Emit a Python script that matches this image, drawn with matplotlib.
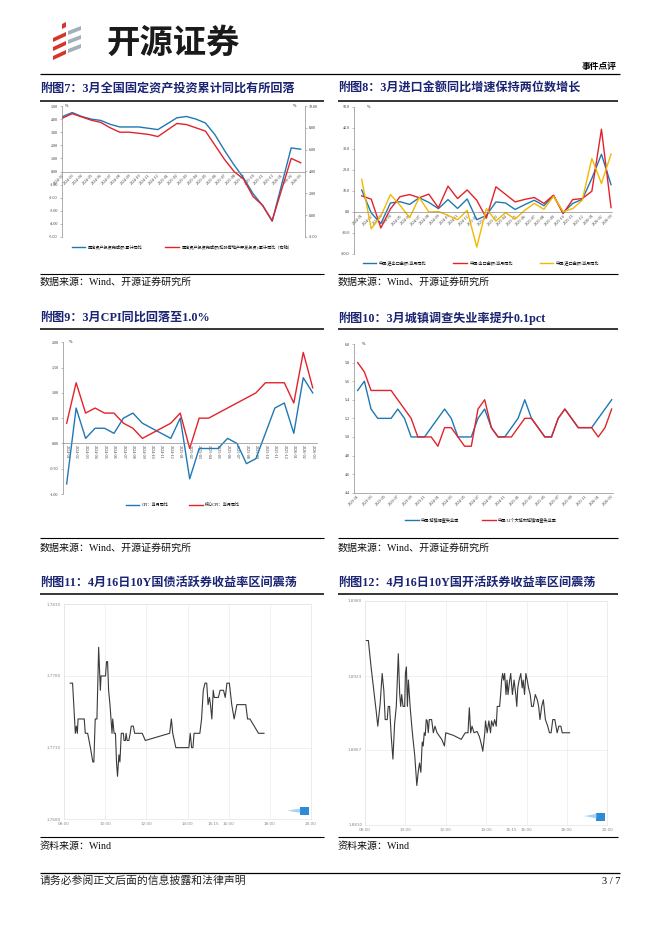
import matplotlib
matplotlib.use("Agg")
import matplotlib.pyplot as plt
import numpy as np
from matplotlib.patches import Polygon, Rectangle
from matplotlib.ticker import FormatStrFormatter

plt.rcParams['font.family'] = ['Liberation Serif', 'Noto Sans CJK SC', 'DejaVu Sans']
plt.rcParams['axes.unicode_minus'] = False

# ---------------- 数据 ----------------
# 附图7 固定资产投资累计同比（1月无数据）
fai_months = ['2024-02', '2024-03', '2024-04', '2024-05', '2024-06', '2024-07', '2024-08',
              '2024-09', '2024-10', '2024-11', '2024-12', '2025-01', '2025-02', '2025-03',
              '2025-04', '2025-05', '2025-06', '2025-07', '2025-08', '2025-09', '2025-10',
              '2025-11', '2025-12', '2026-01', '2026-02', '2026-03']
fai_total = [4.2, 4.5, 4.2, 4.0, 3.9, 3.6, 3.4, 3.4, 3.4, 3.3, 3.2, np.nan, 4.1, 4.2,
             4.0, 3.7, 2.8, 1.6, 0.5, -0.5, -1.7, -2.6, -3.8, np.nan, 1.8, 1.7]
fai_ex_re = [8.9, 9.3, 9.0, 8.7, 8.5, 8.0, 7.6, 7.6, 7.5, 7.4, 7.2, np.nan, 8.4, 8.3,
             8.0, 7.7, 6.4, 5.1, 4.0, 3.3, 1.7, 0.9, -0.5, np.nan, 5.2, 4.8]
fai_names = ['固定资产投资完成额:累计同比', '固定资产投资完成额(扣除房地产开发投资):累计同比（右轴）']

# 附图8 进出口当月同比
trade_months = ['2024-01', '2024-02', '2024-03', '2024-04', '2024-05', '2024-06', '2024-07',
                '2024-08', '2024-09', '2024-10', '2024-11', '2024-12', '2025-01', '2025-02',
                '2025-03', '2025-04', '2025-05', '2025-06', '2025-07', '2025-08', '2025-09',
                '2025-10', '2025-11', '2025-12', '2026-01', '2026-02', '2026-03']
trade_total = [10.5, -0.5, -5.5, 4.3, 4.9, 3.6, 6.8, 4.6, 1.6, 5.9, 1.7, 6.2, -3.7, -1.6,
               4.8, 4.3, 1.2, 3.5, 5.6, 3.0, 7.8, -0.3, 4.1, 6.0, 16.0, 27.5, 13.0]
exports = [7.7, 6.1, -7.6, 1.5, 7.3, 8.3, 6.8, 8.5, 2.0, 12.3, 6.4, 10.5, 5.6, -2.9,
           12.0, 8.4, 4.8, 6.0, 6.9, 4.1, 8.0, -0.8, 5.9, 6.4, 9.9, 39.4, 2.1]
imports = [15.6, -8.0, -2.0, 8.3, 3.2, -2.7, 6.9, 0.0, 0.2, -1.6, -3.7, 0.8, -16.7, 1.6,
           -4.3, -0.3, -3.4, 0.8, 4.1, 1.3, 7.5, 0.2, 1.6, 5.6, 25.5, 13.6, 27.6]
trade_names = ['中国:进出口金额:当月同比', '中国:出口金额:当月同比', '中国:进口金额:当月同比']

# 附图9 CPI
cpi_months = trade_months
cpi = [-0.8, 0.7, 0.1, 0.3, 0.3, 0.2, 0.5, 0.6, 0.4, 0.3, 0.2, 0.1, 0.5, -0.7,
       -0.1, -0.1, -0.1, 0.1, 0.0, -0.4, -0.3, 0.2, 0.7, 0.8, 0.2, 1.3, 1.0]
core_cpi = [0.4, 1.2, 0.6, 0.7, 0.6, 0.6, 0.4, 0.3, 0.1, 0.2, 0.3, 0.4, 0.6, -0.1,
            0.5, 0.5, 0.6, 0.7, 0.8, 0.9, 1.0, 1.2, 1.2, 1.2, 0.8, 1.8, 1.1]
cpi_names = ['CPI：当月同比', '核心CPI：当月同比']

# 附图10 城镇调查失业率
unemp_months = ['2023-01', '2023-02', '2023-03', '2023-04', '2023-05', '2023-06', '2023-07',
                '2023-08', '2023-09', '2023-10', '2023-11', '2023-12', '2024-01', '2024-02',
                '2024-03', '2024-04', '2024-05', '2024-06', '2024-07', '2024-08', '2024-09',
                '2024-10', '2024-11', '2024-12', '2025-01', '2025-02', '2025-03', '2025-04',
                '2025-05', '2025-06', '2025-07', '2025-08', '2025-09', '2025-10', '2025-11',
                '2025-12', '2026-01', '2026-02', '2026-03']
unemp = [5.5, 5.6, 5.3, 5.2, 5.2, 5.2, 5.3, 5.2, 5.0, 5.0, 5.0, 5.1, 5.2, 5.3, 5.2, 5.0,
         5.0, 5.0, 5.2, 5.3, 5.1, 5.0, 5.0, 5.1, 5.2, 5.4, 5.2, 5.1, 5.0, 5.0, 5.2, 5.3,
         5.2, 5.1, 5.1, 5.1, 5.2, 5.3, 5.4]
unemp31 = [5.8, 5.7, 5.5, 5.5, 5.5, 5.5, 5.4, 5.3, 5.2, 5.0, 5.0, 5.0, 4.9, 5.1, 5.1, 5.0,
           4.9, 4.9, 5.3, 5.4, 5.1, 5.0, 5.0, 5.0, 5.1, 5.2, 5.2, 5.1, 5.0, 5.0, 5.2, 5.3,
           5.2, 5.1, 5.1, 5.1, 5.0, 5.1, 5.3]
unemp_names = ['中国:城镇调查失业率', '中国:31个大城市城镇调查失业率']

# 附图11 10Y国债活跃券 日内
t11 = ['08:18', '08:25', '08:33', '08:36', '08:39', '08:41', '08:48', '08:59', '09:02', '09:09',
       '09:17', '09:24', '09:27', '09:31', '09:36', '09:41', '09:46', '09:48', '09:53', '10:01',
       '10:04', '10:07', '10:10', '10:14', '10:20', '10:22', '10:26', '10:30', '10:33', '10:36',
       '10:40', '10:43', '10:47', '10:53', '10:55', '10:59', '11:01', '11:04', '11:09', '11:13',
       '11:16', '11:22', '11:26', '11:32', '11:48', '11:57', '13:08', '13:13', '13:17', '13:26',
       '13:59', '14:04', '14:08', '14:12', '14:16', '14:19', '14:27', '14:36', '14:41', '14:46',
       '14:51', '14:56', '15:00', '15:04', '15:07', '15:11', '15:15', '15:18', '15:30', '15:35',
       '15:45', '15:50', '15:55', '16:02', '16:09', '16:16', '16:24', '16:50', '16:55', '17:02',
       '17:27', '17:43']
v11 = [1.7775, 1.7775, 1.7740, 1.7745, 1.7740, 1.7750, 1.7750, 1.7750, 1.7740, 1.7740,
       1.7730, 1.7720, 1.7720, 1.7750, 1.7750, 1.7800, 1.7770, 1.7780, 1.7780, 1.7780,
       1.7790, 1.7790, 1.7770, 1.7760, 1.7740, 1.7750, 1.7740, 1.7740, 1.7720, 1.7710,
       1.7725, 1.7720, 1.7740, 1.7740, 1.7735, 1.7735, 1.7740, 1.7735, 1.7735, 1.7740,
       1.7745, 1.7745, 1.7740, 1.7740, 1.7740, 1.7735, 1.7740, 1.7750, 1.7740, 1.7730,
       1.7730, 1.7730, 1.7740, 1.7730, 1.7730, 1.7740, 1.7740, 1.7740, 1.7750, 1.7770,
       1.7775, 1.7775, 1.7760, 1.7765, 1.7760, 1.7750, 1.7770, 1.7765, 1.7765, 1.7770,
       1.7770, 1.7765, 1.7775, 1.7775, 1.7760, 1.7750, 1.7760, 1.7760, 1.7750, 1.7750,
       1.7740, 1.7740]
y11_ticks = [1.7680, 1.7730, 1.7780, 1.7830]

# 附图12 10Y国开活跃券 日内
t12 = ['08:03', '08:10', '08:18', '08:33', '08:38', '08:45', '08:51', '08:56', '09:00', '09:06',
       '09:09', '09:13', '09:18', '09:23', '09:28', '09:33', '09:39', '09:43', '09:46', '09:49',
       '09:53', '09:58', '10:00', '10:03', '10:06', '10:09', '10:14', '10:20', '10:24', '10:28',
       '10:34', '10:38', '10:42', '10:46', '10:50', '10:53', '10:56', '10:59', '11:02', '11:05',
       '11:08', '11:11', '11:18', '11:23', '11:28', '11:34', '11:48', '11:56', '12:00', '12:23',
       '12:46', '12:53', '12:58', '13:06', '13:10', '13:14', '13:18', '13:24', '13:33', '13:40',
       '13:46', '13:50', '13:56', '13:58', '14:03', '14:08', '14:13', '14:16', '14:21', '14:25',
       '14:30', '14:33', '14:40', '14:43', '14:46', '14:49', '14:52', '14:55', '14:59', '15:02',
       '15:05', '15:10', '15:13', '15:18', '15:23', '15:28', '15:31', '15:34', '15:38', '15:43',
       '15:47', '15:50', '15:54', '15:58', '16:02', '16:06', '16:11', '16:15', '16:20', '16:26',
       '16:32', '16:36', '16:40', '16:45', '16:50', '16:56', '17:03', '17:08', '17:13', '17:18',
       '17:24', '17:31', '17:36', '17:42', '17:46', '18:08']
v12 = [1.8950, 1.8950, 1.8930, 1.8897, 1.8885, 1.8902, 1.8925, 1.8912, 1.8890, 1.8890,
       1.8900, 1.8900, 1.8877, 1.8860, 1.8887, 1.8900, 1.8940, 1.8910, 1.8900, 1.8909,
       1.8900, 1.8900, 1.8925, 1.8930, 1.8900, 1.8920, 1.8900, 1.8882, 1.8872, 1.8862,
       1.8840, 1.8850, 1.8857, 1.8850, 1.8873, 1.8870, 1.8880, 1.8878, 1.8890, 1.8889,
       1.8880, 1.8890, 1.8890, 1.8880, 1.8885, 1.8880, 1.8875, 1.8870, 1.8880, 1.8878,
       1.8875, 1.8878, 1.8880, 1.8880, 1.8899, 1.8880, 1.8885, 1.8880, 1.8881, 1.8877,
       1.8871, 1.8866, 1.8880, 1.8889, 1.8880, 1.8889, 1.8880, 1.8889, 1.8885, 1.8890,
       1.8885, 1.8900, 1.8900, 1.8909, 1.8920, 1.8925, 1.8920, 1.8925, 1.8909, 1.8920,
       1.8909, 1.8920, 1.8925, 1.8909, 1.8920, 1.8909, 1.8900, 1.8914, 1.8920, 1.8925,
       1.8914, 1.8920, 1.8909, 1.8925, 1.8920, 1.8914, 1.8909, 1.8900, 1.8900, 1.8909,
       1.8905, 1.8900, 1.8890, 1.8900, 1.8905, 1.8890, 1.8885, 1.8880, 1.8880, 1.8890,
       1.8890, 1.8880, 1.8885, 1.8885, 1.8880, 1.8880]
y12_ticks = [1.8810, 1.8867, 1.8923, 1.8980]

x_ticks_time = ['08:00', '10:00', '12:00', '14:00', '16:00', '18:00', '20:00']

# ---------------- 版式 ----------------
W, H = 662, 936
NAVY = '#1B2473'
BLUE = '#1F78B4'
RED = '#E3222B'
GOLD = '#F2B800'
SERIF_CJK = ['Liberation Serif', 'Noto Sans CJK SC']


def box(l, t, r, b):
    return [l / W, 1 - b / H, (r - l) / W, (b - t) / H]


def fpos(x, y):
    return (x / W, 1 - y / H)


def minutes(ts):
    return np.array([int(s[:2]) * 60 + int(s[3:]) for s in ts])


fig = plt.figure(figsize=(W / 100, H / 100), dpi=100)
page = fig.add_axes([0, 0, 1, 1])
page.set_xlim(0, W)
page.set_ylim(H, 0)
page.axis('off')


def rule(x0, x1, y, lw=0.9):
    page.plot([x0, x1], [y, y], color='black', lw=lw, solid_capstyle='butt')


def title(x, y, s):
    page.text(x, y, s, fontsize=8.7, fontweight='bold', color=NAVY, va='center', ha='left',
              family=SERIF_CJK)


def source(x, y, s):
    page.text(x, y, s, fontsize=7.2, va='center', ha='left', family=SERIF_CJK, color='#111111')


# 页眉
for y0 in [30, 39, 48]:
    page.add_patch(Polygon([(53, y0 + 8), (66, y0 + 2), (66, y0 + 6), (53, y0 + 12)],
                           closed=True, color='#D8352A', lw=0))
    page.add_patch(Polygon([(68, y0 + 1), (81, y0 - 4), (81, y0), (68, y0 + 5)],
                           closed=True, color='#A3B0BA', lw=0))
page.add_patch(Polygon([(62, 24), (66, 22), (66, 27), (62, 29)], closed=True, color='#D8352A', lw=0))
page.text(107, 43, '开源证券', fontsize=24, fontweight='bold', family='Noto Sans CJK SC',
          va='center', ha='left', color='#1a1a1a')
page.text(617, 67, '事件点评', fontsize=6.3, fontweight='bold', family='Noto Sans CJK SC',
          va='center', ha='right')
rule(40, 620, 73.5, 0.9)

# 标题 / 来源
title(40, 88, '附图7：3月全国固定资产投资累计同比有所回落')
title(338, 88, '附图8：3月进口金额同比增速保持两位数增长')
rule(40, 324, 101, 1.1)
rule(338, 618, 101, 1.1)
rule(40, 324, 274, 0.8)
rule(338, 618, 274, 0.8)
source(40, 282, '数据来源：Wind、开源证券研究所')
source(338, 282, '数据来源：Wind、开源证券研究所')

title(40, 318, '附图9：3月CPI同比回落至1.0%')
title(338, 318, '附图10：3月城镇调查失业率提升0.1pct')
rule(40, 324, 329, 1.1)
rule(338, 618, 329, 1.1)
rule(40, 324, 538, 0.8)
rule(338, 618, 538, 0.8)
source(40, 548, '数据来源：Wind、开源证券研究所')
source(338, 548, '数据来源：Wind、开源证券研究所')

title(40, 583, '附图11：4月16日10Y国债活跃券收益率区间震荡')
title(338, 583, '附图12：4月16日10Y国开活跃券收益率区间震荡')
rule(40, 324, 594, 1.1)
rule(338, 618, 594, 1.1)
rule(40, 324, 837, 0.8)
rule(338, 618, 837, 0.8)
source(40, 846, '资料来源：Wind')
source(338, 846, '资料来源：Wind')

# 页脚
rule(40, 620, 873, 0.9)
page.text(40, 881, '请务必参阅正文后面的信息披露和法律声明', fontsize=7.8, va='center',
          family='Noto Sans CJK SC', color='#222222')
page.text(620, 881, '3 / 7', fontsize=7.5, va='center', ha='right', family='Liberation Serif')

SP = '#8c8c8c'


def style_axis(ax, fmt):
    for s in ['top', 'right']:
        ax.spines[s].set_visible(False)
    for s in ['left', 'bottom']:
        ax.spines[s].set_color(SP)
        ax.spines[s].set_linewidth(0.5)
    ax.tick_params(axis='y', labelsize=3, length=1.5, width=0.4, color=SP, pad=1.5,
                   labelcolor='#333333')
    ax.tick_params(axis='x', labelsize=3, length=0, pad=1.2, labelcolor='#333333')
    ax.yaxis.set_major_formatter(FormatStrFormatter(fmt))
    ax.set_facecolor('none')


def legend(handles, labels, cx, cy, ncol, colsp):
    fig.legend(handles, labels, loc='center', bbox_to_anchor=fpos(cx, cy), ncol=ncol,
               frameon=False, fontsize=3, handlelength=3.2, handletextpad=0.6,
               columnspacing=colsp, borderpad=0)


def plot_gap(ax, x, v, **kw):
    v = np.asarray(v, dtype=float)
    m = ~np.isnan(v)
    return ax.plot(x[m], v[m], **kw)[0]


# ---------- 附图7 ----------
ax7 = fig.add_axes(box(62, 106, 305, 237))
x7 = np.arange(len(fai_months))
l7a = plot_gap(ax7, x7, fai_total, color=BLUE, lw=1.0)
ax7.set_ylim(-5, 5)
ax7.set_xlim(-0.07, 25.45)
ax7.set_yticks(np.arange(-5, 5.01, 1))
style_axis(ax7, '%.2f')
ax7.spines['bottom'].set_position(('data', 0))
ax7.set_xticks(x7)
ax7.set_xticklabels(fai_months, rotation=45, ha='right', va='top', rotation_mode='anchor')
ax7r = ax7.twinx()
l7b = plot_gap(ax7r, x7, fai_ex_re, color=RED, lw=1.0)
ax7r.set_ylim(-2, 10)
ax7r.set_yticks(np.arange(-2, 10.01, 2))
for s in ['top', 'left', 'bottom']:
    ax7r.spines[s].set_visible(False)
ax7r.spines['right'].set_color(SP)
ax7r.spines['right'].set_linewidth(0.5)
ax7r.tick_params(axis='y', labelsize=3, length=1.5, width=0.4, color=SP, pad=1.5,
                 labelcolor='#333333')
ax7r.yaxis.set_major_formatter(FormatStrFormatter('%.2f'))
ax7.text(0.012, 1.0, '%', transform=ax7.transAxes, fontsize=3, va='center')
ax7.text(0.965, 1.0, '%', transform=ax7.transAxes, fontsize=3, va='center', ha='right')
legend([l7a, l7b], fai_names, 182, 247, 2, 5.5)

# ---------- 附图8 ----------
ax8 = fig.add_axes(box(354, 107, 612, 254))
x8 = np.arange(len(trade_months))
l8a, = ax8.plot(x8, trade_total, color=BLUE, lw=1.0)
l8b, = ax8.plot(x8, exports, color=RED, lw=1.0)
l8c, = ax8.plot(x8, imports, color=GOLD, lw=1.0)
ax8.set_ylim(-20, 50)
ax8.set_xlim(-0.8, 26.1)
ax8.set_yticks(np.arange(-20, 50.01, 10))
style_axis(ax8, '%.1f')
ax8.spines['bottom'].set_position(('data', 0))
ax8.set_xticks(x8)
ax8.set_xticklabels(trade_months, rotation=45, ha='right', va='top', rotation_mode='anchor')
ax8.text(0.05, 1.0, '%', transform=ax8.transAxes, fontsize=3, va='center')
legend([l8a, l8b, l8c], trade_names, 481, 263, 3, 6.5)

# ---------- 附图9 ----------
ax9 = fig.add_axes(box(62.7, 342.3, 316.7, 494))
x9 = np.arange(len(cpi_months))
l9a, = ax9.plot(x9, cpi, color=BLUE, lw=1.0)
l9b, = ax9.plot(x9, core_cpi, color=RED, lw=1.0)
ax9.set_ylim(-1, 2)
ax9.set_xlim(-0.42, 26.42)
ax9.set_yticks(np.arange(-1, 2.01, 0.5))
style_axis(ax9, '%.2f')
ax9.spines['bottom'].set_position(('data', 0))
ax9.set_xticks(x9)
ax9.set_xticklabels(cpi_months, rotation=-90, ha='center', va='top')
ax9.text(0.025, 1.0, '%', transform=ax9.transAxes, fontsize=3, va='center')
legend([l9a, l9b], cpi_names, 183, 505, 2, 5.0)

# ---------- 附图10 ----------
ax10 = fig.add_axes(box(354, 344, 613, 492.7))
x10 = np.arange(len(unemp_months))
l10a, = ax10.plot(x10, unemp, color=BLUE, lw=1.0)
l10b, = ax10.plot(x10, unemp31, color=RED, lw=1.0)
ax10.set_ylim(4.4, 6.0)
ax10.set_xlim(-0.55, 38.2)
ax10.set_yticks(np.arange(4.4, 6.01, 0.2))
style_axis(ax10, '%.1f')
ax10.set_xticks(x10[::2])
ax10.set_xticklabels(unemp_months[::2], rotation=45, ha='right', va='top', rotation_mode='anchor')
ax10.text(0.03, 1.0, '%', transform=ax10.transAxes, fontsize=3, va='center')
legend([l10a, l10b], unemp_names, 481, 520, 2, 5.5)


# ---------- 附图11 / 12 ----------
def intraday(rect, ts, vals, yticks):
    ax = fig.add_axes(rect)
    ax.plot(minutes(ts), vals, color='#3a3a3a', lw=0.8)
    ax.set_xlim(480, 1200)
    ax.set_ylim(yticks[0], yticks[-1])
    ax.set_yticks(yticks)
    ax.set_yticklabels(['%.4f' % v for v in yticks])
    major = minutes(x_ticks_time)
    ax.set_xticks(major)
    ax.set_xticklabels(x_ticks_time)
    ax.set_xticks([915], minor=True)
    ax.set_xticklabels(['15:15'], minor=True)
    ax.grid(True, which='major', color='#ececec', lw=0.5)
    for s in ax.spines.values():
        s.set_color('#e4e4e4')
        s.set_linewidth(0.5)
    ax.tick_params(which='both', labelsize=3, length=0, pad=2, labelcolor='#8a8a8a')
    for lab in ax.get_xticklabels(which='both') + ax.get_yticklabels():
        lab.set_family('DejaVu Sans')
    # Wind 水印
    ax.add_patch(Rectangle((0.955, 0.02), 0.035, 0.035, transform=ax.transAxes,
                           color='#2F8BD8', lw=0))
    ax.add_patch(Polygon([(0.905, 0.04), (0.955, 0.05), (0.955, 0.03)], closed=True,
                         transform=ax.transAxes, color='#A9D2F2', lw=0))
    return ax


intraday(box(64, 604.3, 311, 819.3), t11, v11, y11_ticks)
intraday(box(365, 601, 607.3, 825), t12, v12, y12_ticks)

fig.savefig('out.png', dpi=100, facecolor='white')
